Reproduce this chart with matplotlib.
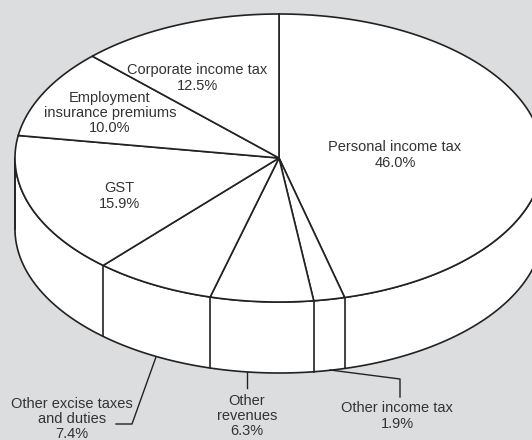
import numpy as np
import matplotlib
matplotlib.use("Agg")
import matplotlib.pyplot as plt
from matplotlib.patches import Polygon

# Revenue shares, in drawing order (clockwise from 12 o'clock)
categories = ["Personal income tax", "Other income tax", "Other\nrevenues",
              "Other excise taxes\nand duties", "GST",
              "Employment\ninsurance premiums", "Corporate income tax"]
shares = [46.0, 1.9, 6.3, 7.4, 15.9, 10.0, 12.5]

# ellipse geometry in pixel space
cx, cy = 279, 158
a, b = 264, 144
depth = 71

bg = "#dcdddf"
ink = "#222222"
txt = "#333333"
lw = 1.2

plt.rcParams["font.family"] = ["Liberation Sans", "DejaVu Sans"]

fig = plt.figure(figsize=(5.32, 4.40), dpi=100)
fig.patch.set_facecolor(bg)
ax = fig.add_axes([0, 0, 1, 1])
ax.set_xlim(0, 532)
ax.set_ylim(440, 0)
ax.axis("off")


def pt(theta, dy=0.0):
    t = np.radians(theta)
    return cx + a * np.cos(t), cy - b * np.sin(t) + dy


def arc(t0, t1, dy=0.0, n=200):
    ts = np.linspace(t0, t1, n)
    return np.array([pt(t, dy) for t in ts])


# slice boundary angles, clockwise from 90 degrees
bounds = 90 - 3.6 * np.concatenate([[0], np.cumsum(shares)])

# side wall of the cylinder (front half)
top = arc(180, 360)
bot = arc(360, 180, depth)
ax.add_patch(Polygon(np.vstack([top, bot]), closed=True, facecolor="white",
                     edgecolor=ink, lw=lw, zorder=1))
# vertical edges where slice boundaries meet the visible side
for t in bounds:
    tt = t % 360
    if 180 < tt < 360:
        x, y = pt(tt)
        ax.plot([x, x], [y, y + depth], color=ink, lw=lw, zorder=2)
x, y = pt(180)
ax.plot([x, x], [y, y + depth], color=ink, lw=lw, zorder=2)

# top face wedges
for i in range(len(shares)):
    pts = arc(bounds[i], bounds[i + 1])
    poly = np.vstack([[cx, cy], pts])
    ax.add_patch(Polygon(poly, closed=True, facecolor="white",
                         edgecolor=ink, lw=lw, joinstyle="miter", zorder=3))

labels = [f"{c}\n{v:.1f}%" for c, v in zip(categories, shares)]
label_pos = [(395, 155), (397, 416), (247, 416), (72, 419),
             (119, 196), (110, 113), (197, 78)]
for lab, (x, y) in zip(labels, label_pos):
    ax.text(x, y, lab, ha="center", va="center", fontsize=10.5,
            color=txt, linespacing=1.1, zorder=5)

# leader lines for the labels below the pie
ax.plot([330, 400, 400], [370, 379, 397], color=ink, lw=1.0, zorder=4)
ax.plot([247, 247], [372, 388], color=ink, lw=1.0, zorder=4)
ax.plot([156, 132, 116], [357, 424, 424], color=ink, lw=1.0, zorder=4)

fig.savefig("out.png", dpi=100, facecolor=bg)
